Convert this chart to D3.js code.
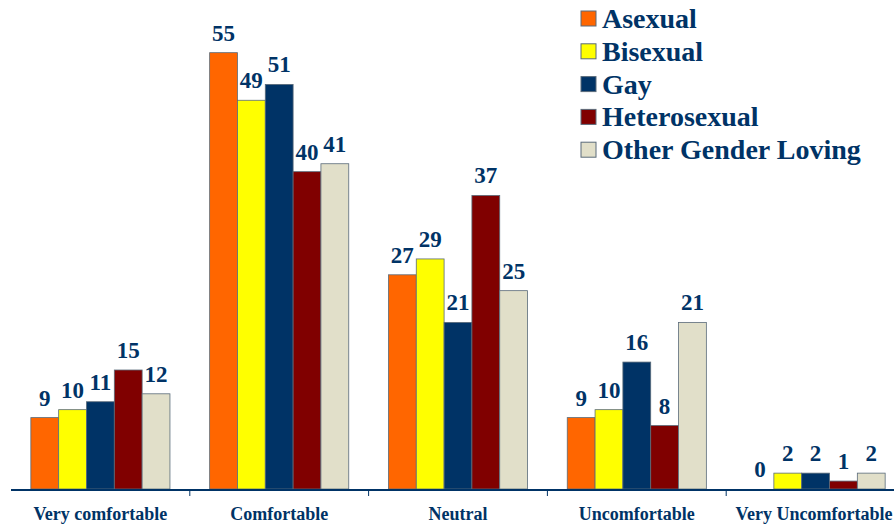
<!DOCTYPE html>
<html>
<head>
<meta charset="utf-8">
<script src="https://cdn.jsdelivr.net/npm/d3@7"></script>
<style>
  body { margin: 0; background: #fff; }
</style>
</head>
<body>
<div id="graph"></div>
<script>
// categories and series
var categories = ["Very comfortable", "Comfortable", "Neutral", "Uncomfortable", "Very Uncomfortable"];
var seriesNames = ["Asexual", "Bisexual", "Gay", "Heterosexual", "Other Gender Loving"];
var asexual = [9, 55, 27, 9, 0];
var bisexual = [10, 49, 29, 10, 2];
var gay = [11, 51, 21, 16, 2];
var heterosexual = [15, 40, 37, 8, 1];
var otherGenderLoving = [12, 41, 25, 21, 2];
var colors = ["#ff6600", "#ffff00", "#003366", "#800000", "#e1dfc9"];

var seriesValues = [asexual, bisexual, gay, heterosexual, otherGenderLoving];

var fontFamily = "Liberation Serif";
var textColor = "#003366";

// dimensions
var width = 894, height = 529;
var margin = {top: 13, left: 11, bottom: 40};
var plotRight = 905;
var baseY = height - margin.bottom;

var svg = d3.select("#graph")
  .append("svg")
    .attr("width", width)
    .attr("height", height);

var x0 = d3.scaleBand()
  .domain(categories)
  .range([margin.left, plotRight])
  .paddingInner(0)
  .paddingOuter(0);

// 5 bars take about 78% of each category
var x1 = d3.scaleBand()
  .domain(seriesNames)
  .range([0, x0.bandwidth() * 0.778]);
var groupOffset = (x0.bandwidth() - x1.range()[1]) / 2;

var y = d3.scaleLinear()
  .domain([0, 60])
  .range([baseY, margin.top]);

// bars
var groups = svg.selectAll("g.cat")
  .data(categories)
  .enter()
  .append("g")
    .attr("class", "cat")
    .attr("transform", function(d) { return "translate(" + (x0(d) + groupOffset) + ",0)"; });

groups.selectAll("rect")
  .data(function(d, i) {
    return seriesNames.map(function(s, j) { return {name: s, value: seriesValues[j][i], color: colors[j]}; });
  })
  .enter()
  .append("rect")
    .attr("x", function(d) { return x1(d.name); })
    .attr("y", function(d) { return y(d.value); })
    .attr("width", x1.bandwidth())
    .attr("height", function(d) { return baseY - y(d.value); })
    .attr("fill", function(d) { return d.color; })
    .attr("stroke", "#5a6b7a")
    .attr("stroke-width", 0.8);

// value labels
groups.selectAll("text.val")
  .data(function(d, i) {
    return seriesNames.map(function(s, j) { return {name: s, value: seriesValues[j][i]}; });
  })
  .enter()
  .append("text")
    .attr("class", "val")
    .attr("x", function(d) { return x1(d.name) + x1.bandwidth() / 2; })
    .attr("y", function(d) { return y(d.value) - 12; })
    .attr("text-anchor", "middle")
    .attr("font-family", fontFamily)
    .attr("font-weight", "bold")
    .attr("font-size", 23)
    .attr("fill", textColor)
    .text(function(d) { return d.value; });

// x axis
svg.append("line")
  .attr("x1", margin.left)
  .attr("x2", plotRight)
  .attr("y1", baseY + 1)
  .attr("y2", baseY + 1)
  .attr("stroke", textColor)
  .attr("stroke-width", 2);

svg.selectAll("line.tick")
  .data(categories.slice(1))
  .enter()
  .append("line")
    .attr("class", "tick")
    .attr("x1", function(d) { return x0(d); })
    .attr("x2", function(d) { return x0(d); })
    .attr("y1", baseY + 2)
    .attr("y2", baseY + 7)
    .attr("stroke", textColor)
    .attr("stroke-width", 1);

svg.selectAll("text.catlabel")
  .data(categories)
  .enter()
  .append("text")
    .attr("class", "catlabel")
    .attr("x", function(d) { return Math.min(x0(d) + x0.bandwidth() / 2, 814); })
    .attr("y", baseY + 31)
    .attr("text-anchor", "middle")
    .attr("font-family", fontFamily)
    .attr("font-weight", "bold")
    .attr("font-size", 18)
    .attr("fill", textColor)
    .text(function(d) { return d; });

// legend
var legend = svg.selectAll("g.legend")
  .data(seriesNames)
  .enter()
  .append("g")
    .attr("class", "legend")
    .attr("transform", function(d, i) { return "translate(581," + (19 + i * 32.8) + ")"; });

legend.append("rect")
  .attr("x", 0)
  .attr("y", -8)
  .attr("width", 15)
  .attr("height", 15)
  .attr("fill", function(d, i) { return colors[i]; })
  .attr("stroke", "#5a6b7a")
  .attr("stroke-width", 1);

legend.append("text")
  .attr("x", 21)
  .attr("y", 9)
  .attr("font-family", fontFamily)
  .attr("font-weight", "bold")
  .attr("font-size", 28)
  .attr("fill", textColor)
  .text(function(d) { return d; });
</script>
</body>
</html>
